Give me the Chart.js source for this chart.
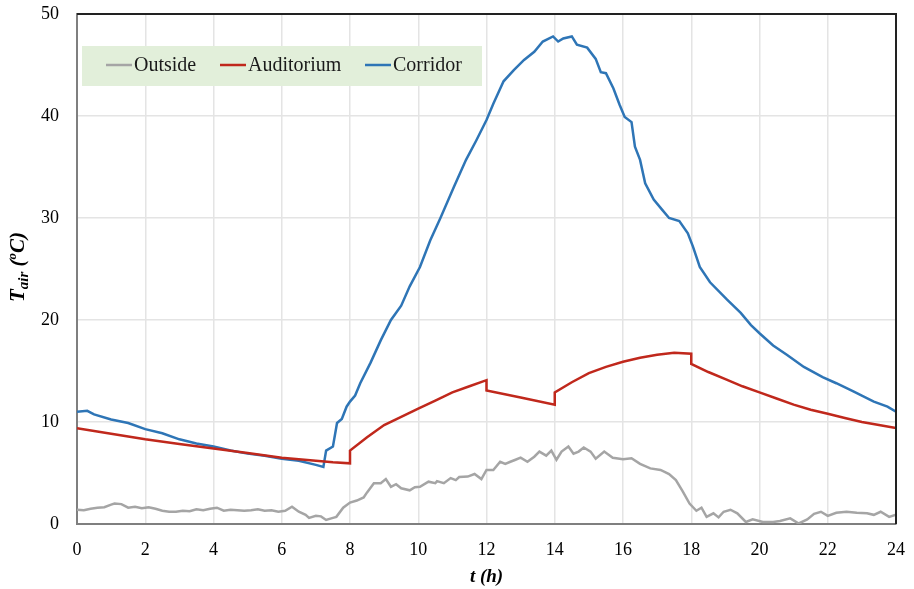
<!DOCTYPE html>
<html lang="en">
<head>
  <meta charset="UTF-8" />
  <title>Air temperature</title>
  <script src="https://cdn.jsdelivr.net/npm/chart.js"></script>
  <style>
    html, body { margin: 0; padding: 0; background: #fff; }
    canvas { display: block; }
  </style>
</head>
<body>
  <canvas id="tempChart" width="914" height="589"></canvas>

  <script>
  // t (h) and T_air (degC)
  const outsideHours = [0, 0.2, 0.4, 0.6, 0.8, 1.0, 1.1, 1.3, 1.5, 1.7, 1.9, 2.1, 2.3, 2.5, 2.7, 2.9, 3.1, 3.3, 3.5, 3.7, 3.9,
    4.1, 4.3, 4.5, 4.7, 4.9, 5.1, 5.3, 5.5, 5.7, 5.9, 6.1, 6.3, 6.5, 6.7, 6.8, 7.0, 7.15, 7.3, 7.5, 7.6, 7.8, 8.0, 8.2,
    8.4, 8.5, 8.7, 8.9, 9.05, 9.2, 9.35, 9.5, 9.75, 9.9, 10.05, 10.3, 10.5, 10.55, 10.75, 10.95, 11.1, 11.2, 11.45, 11.65,
    11.85, 12.0, 12.2, 12.4, 12.55, 12.7, 12.85, 13.0, 13.2, 13.4, 13.55, 13.75, 13.9, 14.05, 14.2, 14.4, 14.55, 14.7,
    14.85, 15.05, 15.2, 15.45, 15.7, 16.0, 16.25, 16.5, 16.8, 17.1, 17.35, 17.55, 17.75, 17.95, 18.15, 18.3, 18.45, 18.65,
    18.8, 18.95, 19.15, 19.35, 19.6, 19.8, 20.1, 20.4, 20.6, 20.9, 21.15, 21.4, 21.6, 21.8, 22.0, 22.25, 22.55, 22.85,
    23.15, 23.35, 23.55, 23.8, 24.0];
  const outsideTemps = [1.4, 1.35, 1.5, 1.6, 1.65, 1.9, 2.0, 1.95, 1.6, 1.7, 1.55, 1.65, 1.5, 1.3, 1.2, 1.2, 1.3, 1.25, 1.45, 1.35, 1.5,
    1.6, 1.3, 1.4, 1.35, 1.3, 1.35, 1.45, 1.3, 1.35, 1.2, 1.3, 1.7, 1.2, 0.9, 0.6, 0.8, 0.75, 0.4, 0.6, 0.7, 1.6, 2.1, 2.3,
    2.6, 3.1, 4.0, 4.0, 4.4, 3.65, 3.9, 3.5, 3.3, 3.6, 3.65, 4.15, 4.0, 4.2, 4.0, 4.5, 4.3, 4.6, 4.65, 4.9,
    4.4, 5.3, 5.3, 6.1, 5.9, 6.1, 6.3, 6.5, 6.1, 6.6, 7.1, 6.7, 7.2, 6.3, 7.1, 7.6, 6.9, 7.1,
    7.5, 7.1, 6.4, 7.1, 6.5, 6.35, 6.45, 5.9, 5.45, 5.3, 4.9, 4.3, 3.2, 2.0, 1.3, 1.6, 0.7, 1.05,
    0.65, 1.2, 1.4, 1.05, 0.2, 0.45, 0.2, 0.2, 0.3, 0.55, 0.05, 0.45, 1.0, 1.2, 0.8, 1.1, 1.2, 1.1,
    1.05, 0.9, 1.2, 0.7, 0.9];

  const auditoriumHours = [0, 1, 2, 3, 4, 5, 6, 7, 7.5, 8, 8, 8.5, 9, 9.5, 10, 10.5, 11, 11.5, 12, 12, 13, 14, 14,
    14.5, 15, 15.5, 16, 16.5, 17, 17.5, 18, 18, 18.5, 19, 19.5, 20, 20.5, 21, 21.5, 22, 22.5, 23, 23.5, 24];
  const auditoriumTemps = [9.4, 8.85, 8.3, 7.85, 7.4, 6.95, 6.5, 6.2, 6.05, 5.95, 7.2, 8.5, 9.7, 10.5, 11.3, 12.1, 12.9, 13.5, 14.1, 13.1, 12.4, 11.7, 12.9,
    13.9, 14.8, 15.4, 15.9, 16.3, 16.6, 16.8, 16.7, 15.7, 14.9, 14.2, 13.5, 12.9, 12.3, 11.7, 11.2, 10.8, 10.4, 10.0, 9.7, 9.4];

  const corridorHours = [0, 0.3, 0.5, 1.0, 1.5, 2.0, 2.5, 3.0, 3.5, 4.0, 4.5, 5.0, 5.5, 6.0, 6.5, 7.0, 7.22, 7.3, 7.5, 7.62,
    7.76, 7.9, 8.0, 8.15, 8.3, 8.6, 8.9, 9.2, 9.5, 9.75, 10.05, 10.35, 10.65, 11.05, 11.4, 11.7, 12.0, 12.2, 12.5, 12.8,
    13.1, 13.4, 13.65, 13.95, 14.1, 14.25, 14.5, 14.65, 14.95, 15.2, 15.35, 15.5, 15.72, 15.9, 16.05, 16.25, 16.35, 16.5,
    16.65, 16.9, 17.15, 17.35, 17.65, 17.9, 18.05, 18.25, 18.55, 19.05, 19.45, 19.75, 20.0, 20.4, 20.8, 21.3, 21.85,
    22.25, 22.75, 23.35, 23.75, 24.0];
  const corridorTemps = [11.0, 11.1, 10.75, 10.25, 9.9, 9.3, 8.9, 8.3, 7.9, 7.6, 7.2, 6.9, 6.7, 6.4, 6.2, 5.8, 5.6, 7.2, 7.6, 9.9,
    10.3, 11.5, 12.0, 12.6, 13.8, 15.8, 18.0, 20.0, 21.4, 23.3, 25.2, 27.8, 30.0, 33.1, 35.7, 37.6, 39.6, 41.2, 43.4, 44.5,
    45.5, 46.3, 47.3, 47.8, 47.3, 47.6, 47.8, 47.0, 46.7, 45.6, 44.3, 44.2, 42.7, 41.1, 39.9, 39.4, 37.0, 35.7,
    33.4, 31.8, 30.8, 30.0, 29.7, 28.5, 27.2, 25.2, 23.7, 22.0, 20.7, 19.5, 18.7, 17.5, 16.6, 15.4, 14.4,
    13.8, 13.0, 12.0, 11.5, 11.0];

  const seriesNames = ['Outside', 'Auditorium', 'Corridor'];
  const seriesColors = ['#a5a5a5', '#c0281c', '#2e75b6'];

  const toPoints = (xs, ys) => xs.map((x, i) => ({ x: x, y: ys[i] }));
  const serif = '"Liberation Serif", "Times New Roman", serif';

  // legend box drawn inside the plot, Excel style
  const legendBox = {
    id: 'legendBox',
    afterDatasetsDraw(chart) {
      const ctx = chart.ctx;
      ctx.save();
      ctx.fillStyle = '#e2efda';
      ctx.fillRect(82, 46, 400, 40);
      ctx.font = '20px ' + serif;
      ctx.textBaseline = 'middle';
      ctx.fillStyle = '#1a1a1a';
      const starts = [106, 220, 365];
      chart.data.datasets.forEach((ds, i) => {
        ctx.strokeStyle = ds.borderColor;
        ctx.lineWidth = 2.5;
        ctx.beginPath();
        ctx.moveTo(starts[i], 65);
        ctx.lineTo(starts[i] + 26, 65);
        ctx.stroke();
        ctx.fillText(ds.label, starts[i] + 28, 66);
      });
      ctx.restore();
    }
  };

  // top/right frame and rotated y title with subscript
  const frameAndTitle = {
    id: 'frameAndTitle',
    afterDraw(chart) {
      const ctx = chart.ctx;
      const a = chart.chartArea;
      ctx.save();
      ctx.strokeStyle = '#222';
      ctx.lineWidth = 2;
      ctx.beginPath();
      ctx.moveTo(a.left, a.top);
      ctx.lineTo(a.right, a.top);
      ctx.lineTo(a.right, a.bottom);
      ctx.stroke();

      const parts = [
        { t: 'T', f: 'bold italic 21px ' + serif, dy: 0 },
        { t: 'air', f: 'bold italic 15px ' + serif, dy: 4 },
        { t: ' (', f: 'bold italic 21px ' + serif, dy: 0 },
        { t: 'o', f: 'bold italic 13px ' + serif, dy: -8 },
        { t: 'C)', f: 'bold italic 21px ' + serif, dy: 0 }
      ];
      let total = 0;
      parts.forEach(p => { ctx.font = p.f; p.w = ctx.measureText(p.t).width; total += p.w; });
      ctx.translate(24, 267);
      ctx.rotate(-Math.PI / 2);
      ctx.fillStyle = '#000';
      ctx.textBaseline = 'alphabetic';
      let x = -total / 2;
      parts.forEach(p => {
        ctx.font = p.f;
        ctx.fillText(p.t, x, p.dy);
        x += p.w;
      });
      ctx.restore();
    }
  };

  const ctx = document.getElementById('tempChart').getContext('2d');
  new Chart(ctx, {
    type: 'line',
    data: {
      datasets: [
        { label: seriesNames[0], data: toPoints(outsideHours, outsideTemps), borderColor: seriesColors[0], backgroundColor: seriesColors[0] },
        { label: seriesNames[1], data: toPoints(auditoriumHours, auditoriumTemps), borderColor: seriesColors[1], backgroundColor: seriesColors[1] },
        { label: seriesNames[2], data: toPoints(corridorHours, corridorTemps), borderColor: seriesColors[2], backgroundColor: seriesColors[2] }
      ]
    },
    options: {
      responsive: false,
      animation: false,
      devicePixelRatio: 1,
      layout: { padding: { top: 14, right: 18, left: 0, bottom: 0 } },
      elements: {
        point: { radius: 0 },
        line: { borderWidth: 2.5, tension: 0 }
      },
      plugins: {
        legend: { display: false },
        tooltip: { enabled: false }
      },
      scales: {
        x: {
          type: 'linear',
          min: 0,
          max: 24,
          ticks: { stepSize: 2, color: '#000', padding: 15, font: { family: serif, size: 18 } },
          grid: { color: '#e4e4e4', lineWidth: 1.5, drawTicks: false },
          border: { color: '#7f7f7f', width: 2 },
          title: {
            display: true,
            text: 't (h)',
            color: '#000',
            padding: { top: 0, bottom: 1 },
            font: { family: serif, size: 19, weight: 'bold', style: 'italic' }
          },
          afterFit: scale => {
            scale.height = 65;
            scale.paddingLeft = 0;
            scale.paddingRight = 0;
          }
        },
        y: {
          min: 0,
          max: 50,
          ticks: { stepSize: 10, color: '#000', padding: 18, font: { family: serif, size: 18 } },
          grid: { color: '#e4e4e4', lineWidth: 1.5, drawTicks: false },
          border: { color: '#7f7f7f', width: 2 },
          afterFit: scale => {
            scale.width = 77;
            scale.paddingTop = 0;
            scale.paddingBottom = 0;
          }
        }
      }
    },
    plugins: [legendBox, frameAndTitle]
  });
  </script>
</body>
</html>
